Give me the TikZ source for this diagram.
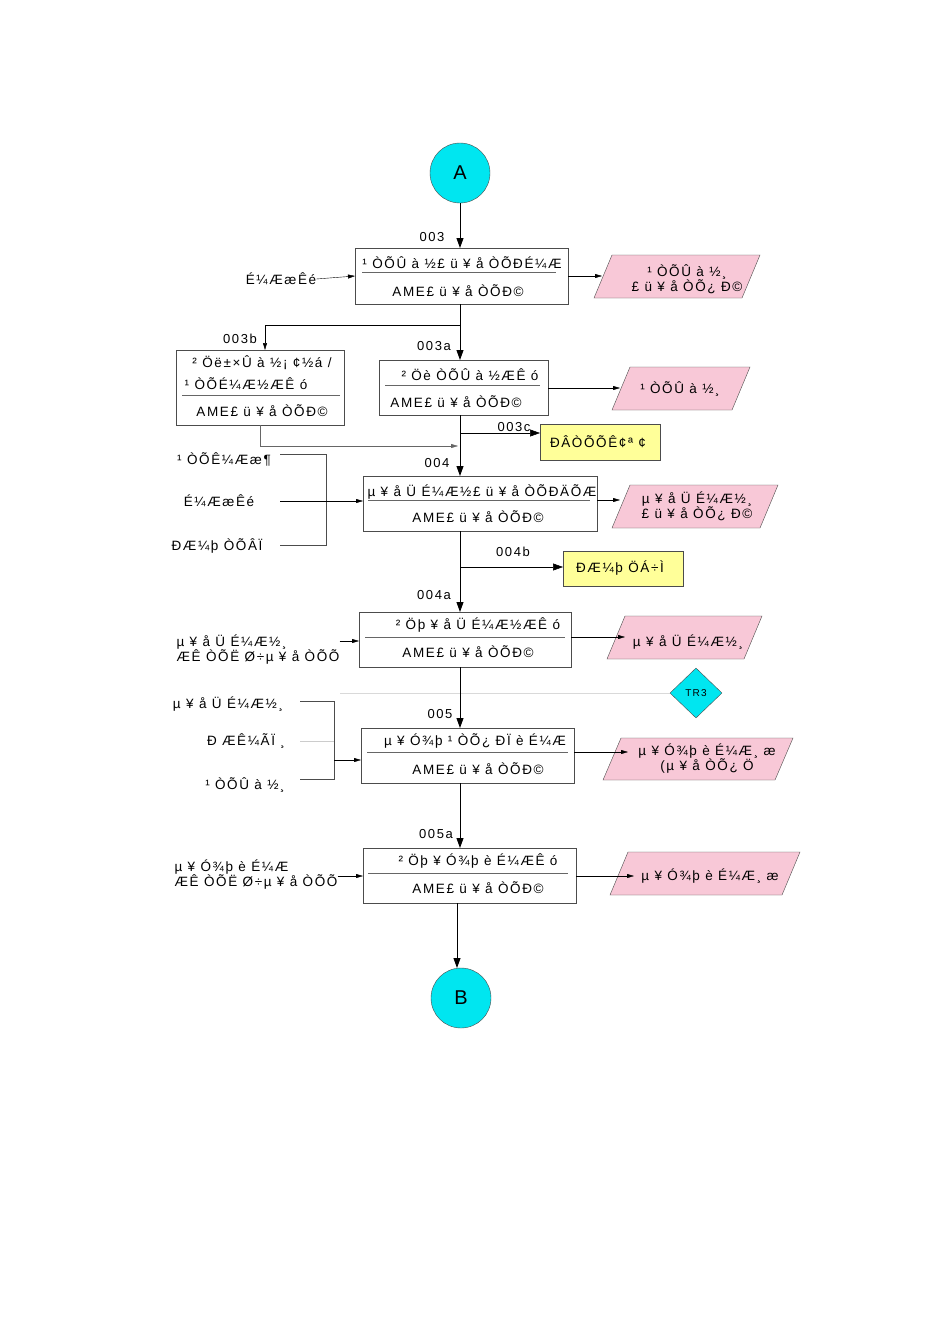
\documentclass[tikz,border=0pt]{standalone}
\usepackage{fontspec}
\setmainfont{Liberation Sans}[LetterSpace=12]
\usetikzlibrary{shapes.geometric,arrows.meta}
\definecolor{pinkp}{RGB}{248,200,215}
\definecolor{yel}{RGB}{255,255,153}
\definecolor{cy}{RGB}{0,230,240}
\begin{document}
\begin{tikzpicture}[x=1pt,y=-1pt,
  every node/.style={font=\fontsize{13.5}{15}\selectfont, inner sep=0pt},
  proc/.style={draw=black!70, line width=0.5pt},
  para/.style={draw=black!70, fill=pinkp},
  yb/.style={draw=black!70, fill=yel},
  term/.style={circle, draw=black!70, fill=cy, minimum size=60pt, font=\fontsize{20}{22}\selectfont},
  arr/.style={-{Triangle[length=10pt,width=7pt]}, line width=0.9pt},
  sarr/.style={-{Triangle[length=7pt,width=4pt]}, line width=0.4pt},
  lbl/.style={font=\fontsize{13}{14}\selectfont}]
\useasboundingbox (0,0) rectangle (950,1344);
\fill[white] (0,0) rectangle (950,1344);

\node[term] (A) at (460,173) {A};
\node[term] (B) at (461,998) {B};

% box 003
\draw[proc] (355,248) rectangle (568,304);
\coordinate (b003t) at (460,248); \coordinate (b003b) at (460,304);
\coordinate (b003l) at (355,276); \coordinate (b003r) at (568,276);
\draw[black!60] (362,272) -- (556,272);
\node at (462,263) {¹ ÒÕÛ à ½£ ü ¥ å ÒÕÐÉ¼Æ};
\node at (458,291) {AME£ ü ¥ å ÒÕÐ©};
\node[lbl] at (432,237) {003};
\draw[arr] (A) -- (b003t);
\node (in003) at (281,279) {É¼ÆæÊé};
\draw[sarr] (in003.east) -- (b003l);
\draw[para] (612,255) -- (760,255) -- (742,298) -- (594,298) -- cycle;
\node (p003) at (687,279) [align=center] {¹ ÒÕÛ à ½¸\\£ ü ¥ å ÒÕ¿ Ð©};
\draw[sarr] (b003r) -- (602,276);

% box 003b
\draw[proc] (176,350) rectangle (344,425);
\node at (262,363) {² Öë±×Û à ½¡ ¢½á /};
\node at (246,384) {¹ ÒÕÉ¼Æ½ÆÊ ó};
\draw[black!60] (182,395) -- (340,395);
\node at (262,411) {AME£ ü ¥ å ÒÕÐ©};
\node[lbl] at (240,339) {003b};
\draw[sarr,line width=0.5pt] (460,325) -- (265,325) -- (265,350);

% box 003a
\draw[proc] (379,360) rectangle (548,415);
\draw[black!60] (385,385) -- (540,385);
\node at (470,375) {² Öè ÒÕÛ à ½ÆÊ ó};
\node at (456,402) {AME£ ü ¥ å ÒÕÐ©};
\node[lbl] at (434,346) {003a};
\draw[arr] (b003b) -- (460,360);
\draw[para] (630,367) -- (750,367) -- (732,410) -- (612,410) -- cycle;
\node at (680,389) {¹ ÒÕÛ à ½¸};
\draw[sarr] (548,388) -- (620,388);

% merge & 003c
\draw[sarr,black!60] (260,425) -- (260,446) -- (458,446);
\draw[yb] (540,424) rectangle (660,460);
\node at (598,442) {ÐÂÒÕÕÊ¢ª ¢};
\node[lbl] at (514,427) {003c};
\draw[arr,line width=0.5pt] (460,433) -- (540,433);
\draw[arr] (460,415) -- (460,476);
\node[lbl] at (437,463) {004};

% box 004
\draw[proc] (363,476) rectangle (597,531);
\draw[black!60] (368,500) -- (590,500);
\node at (482,492) {µ ¥ å Ü É¼Æ½£ ü ¥ å ÒÕÐÄÕÆ};
\node at (478,517) {AME£ ü ¥ å ÒÕÐ©};
\node at (224,459) {¹ ÒÕÊ¼Ææ¶};
\node at (219,501) {É¼ÆæÊé};
\node at (217,546) {ÐÆ¼þ ÒÕÂÏ};
\draw[black!70] (280,454) -- (326,454) -- (326,545) -- (280,545);
\draw[sarr] (280,501) -- (363,501);
\draw[para] (630,485) -- (778,485) -- (760,528) -- (612,528) -- cycle;
\node at (697,506) [align=center] {µ ¥ å Ü É¼Æ½¸\\£ ü ¥ å ÒÕ¿ Ð©};
\draw[sarr] (597,500) -- (620,500);

% 004b
\draw[yb] (563,551) rectangle (683,586);
\node at (620,568) {ÐÆ¼þ ÖÁ÷Ì};
\node[lbl] at (513,552) {004b};
\draw[arr,line width=0.5pt] (460,567) -- (563,567);
\draw[arr] (460,531) -- (460,612);
\node[lbl] at (434,595) {004a};

% box 004a
\draw[proc] (359,612) rectangle (571,667);
\draw[black!60] (365,637) -- (565,637);
\node at (478,625) {² Öþ ¥ å Ü É¼Æ½ÆÊ ó};
\node at (468,652) {AME£ ü ¥ å ÒÕÐ©};
\node[align=left] (in004a) at (258,650) {µ ¥ å Ü É¼Æ½¸\\ÆÊ ÒÕË Ø÷µ ¥ å ÒÕÕ};
\draw[sarr] (in004a.east |- 0,641) -- (359,641);
\draw[para] (625,616) -- (762,616) -- (744,659) -- (607,659) -- cycle;
\node at (688,642) {µ ¥ å Ü É¼Æ½¸};
\draw[sarr] (571,637) -- (625,637);

% TR3
\draw[black!15] (340,693) -- (670,693);
\node[diamond, draw=black!70, fill=cy, minimum width=52pt, minimum height=50pt, font=\fontsize{10}{12}\selectfont] (tr3) at (696,693) {TR3};

\draw[arr] (460,667) -- (460,728);
\node[lbl] at (440,714) {005};

% box 005
\draw[proc] (361,728) rectangle (574,783);
\draw[black!60] (367,752) -- (568,752);
\node at (475,741) {µ ¥ Ó¾þ ¹ ÒÕ¿ ÐÏ è É¼Æ};
\node at (478,769) {AME£ ü ¥ å ÒÕÐ©};
\node at (228,704) {µ ¥ å Ü É¼Æ½¸};
\node at (246,741) {Ð ÆÊ¼ÃÏ ¸};
\node at (245,785) {¹ ÒÕÛ à ½¸};
\draw[black!70] (300,701) -- (334,701) -- (334,779) -- (300,779);
\draw[black!20] (300,741) -- (334,741);
\draw[sarr] (334,760) -- (361,760);
\draw[para] (621,738) -- (793,738) -- (775,780) -- (603,780) -- cycle;
\node at (707,759) [align=center] {µ ¥ Ó¾þ è É¼Æ¸ æ\\(µ ¥ å ÒÕ¿ Ö};
\draw[sarr] (574,752) -- (628,752);

\draw[arr] (460,783) -- (460,848);
\node[lbl] at (436,834) {005a};

% box 005a
\draw[proc] (363,848) rectangle (576,903);
\draw[black!60] (368,873) -- (568,873);
\node at (478,861) {² Öþ ¥ Ó¾þ è É¼ÆÊ ó};
\node at (478,888) {AME£ ü ¥ å ÒÕÐ©};
\node[align=left] (in005a) at (256,875) {µ ¥ Ó¾þ è É¼Æ\\ÆÊ ÒÕË Ø÷µ ¥ å ÒÕÕ};
\draw[sarr] (in005a.east |- 0,876) -- (363,876);
\draw[para] (628,852) -- (800,852) -- (782,895) -- (610,895) -- cycle;
\node at (710,876) {µ ¥ Ó¾þ è É¼Æ¸ æ};
\draw[sarr] (576,876) -- (634,876);

\draw[arr] (457,903) -- (457,968);
\end{tikzpicture}
\end{document}
